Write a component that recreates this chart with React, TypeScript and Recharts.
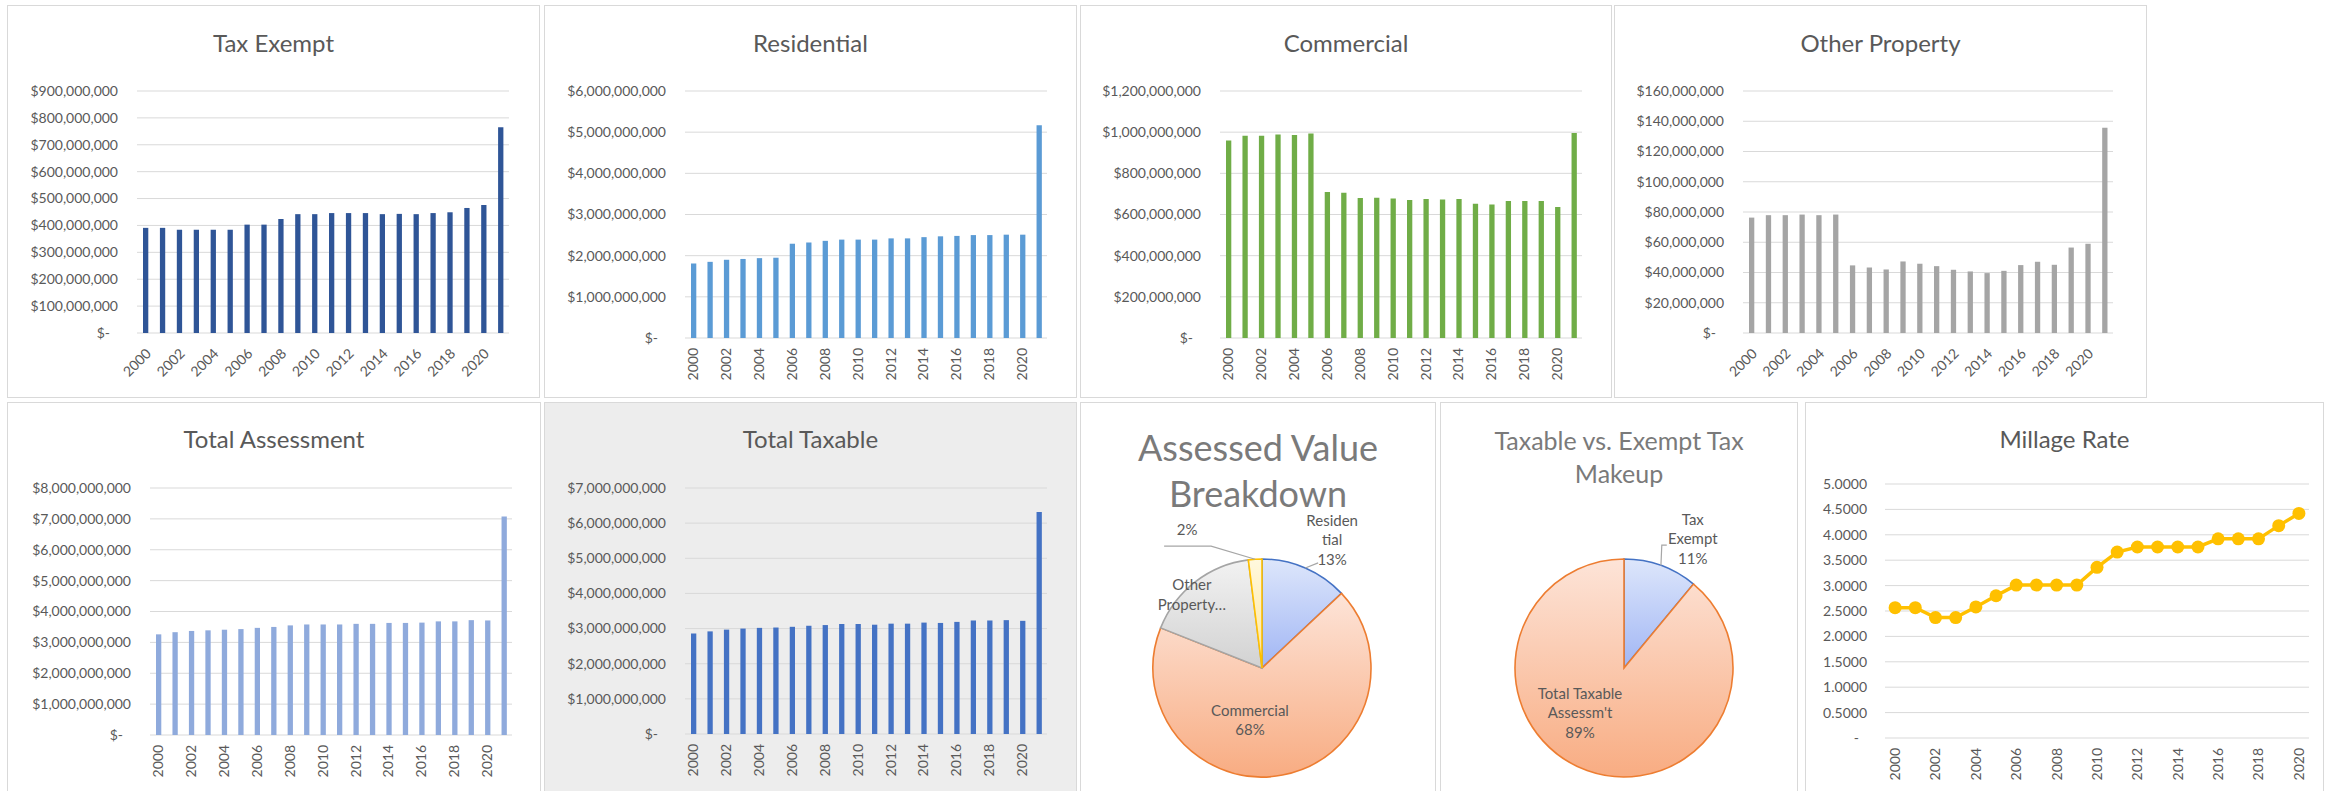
import React from 'react';
import { BarChart, Bar, LineChart, Line, PieChart, Pie, Cell, XAxis, YAxis, CartesianGrid } from 'recharts';

const FONT = 'Lato, "Open Sans", sans-serif';
const TEXT = '#595959';
const GRID = '#d9d9d9';

// categories
const years = ['2000', '2001', '2002', '2003', '2004', '2005', '2006', '2007', '2008', '2009', '2010',
  '2011', '2012', '2013', '2014', '2015', '2016', '2017', '2018', '2019', '2020', '2021'];
const millageYears = ['2000', '2001', '2002', '2003', '2004', '2005', '2006', '2007', '2008', '2009', '2010',
  '2011', '2012', '2013', '2014', '2015', '2016', '2017', '2018', '2019', '2020'];

// series values (dollars)
const taxExempt = [391e6, 391e6, 384e6, 384e6, 384e6, 384e6, 403e6, 403e6, 424e6, 442e6, 442e6,
  446e6, 446e6, 446e6, 442e6, 443e6, 442e6, 446e6, 449e6, 465e6, 476e6, 765e6];
const residential = [1.81e9, 1.85e9, 1.90e9, 1.92e9, 1.94e9, 1.95e9, 2.29e9, 2.32e9, 2.36e9, 2.39e9, 2.39e9,
  2.39e9, 2.42e9, 2.42e9, 2.45e9, 2.47e9, 2.48e9, 2.50e9, 2.50e9, 2.51e9, 2.51e9, 5.17e9];
const commercial = [960e6, 983e6, 983e6, 989e6, 986e6, 994e6, 709e6, 706e6, 680e6, 681e6, 678e6,
  671e6, 675e6, 673e6, 675e6, 652e6, 649e6, 665e6, 665e6, 665e6, 636e6, 996e6];
const otherProperty = [76.3e6, 77.9e6, 77.9e6, 78.3e6, 77.9e6, 78.3e6, 44.7e6, 43.3e6, 42.0e6, 47.3e6, 45.8e6,
  44.2e6, 41.8e6, 40.7e6, 39.6e6, 41.1e6, 44.9e6, 47.1e6, 45.1e6, 56.5e6, 59.0e6, 135.7e6];
const totalAssessment = [3.26e9, 3.33e9, 3.37e9, 3.39e9, 3.41e9, 3.43e9, 3.47e9, 3.50e9, 3.55e9, 3.58e9, 3.58e9,
  3.58e9, 3.60e9, 3.60e9, 3.63e9, 3.63e9, 3.64e9, 3.68e9, 3.68e9, 3.72e9, 3.71e9, 7.08e9];
const totalTaxable = [2.86e9, 2.92e9, 2.97e9, 3.00e9, 3.02e9, 3.03e9, 3.05e9, 3.08e9, 3.10e9, 3.13e9, 3.13e9,
  3.11e9, 3.14e9, 3.14e9, 3.17e9, 3.16e9, 3.19e9, 3.23e9, 3.23e9, 3.24e9, 3.22e9, 6.32e9];
const millageRate = [2.566, 2.566, 2.37, 2.37, 2.58, 2.80, 3.01, 3.01, 3.01, 3.01, 3.36,
  3.66, 3.76, 3.76, 3.76, 3.76, 3.92, 3.92, 3.92, 4.18, 4.42];

// pies (percent shares)
const breakdownNames = ['Residential', 'Commercial', 'Other Property', ''];
const breakdownValues = [13, 68, 17, 2];
const makeupNames = ['Tax Exempt', "Total Taxable Assessm't"];
const makeupValues = [11, 89];

// tick values
const taxExemptTicks = [0, 1e8, 2e8, 3e8, 4e8, 5e8, 6e8, 7e8, 8e8, 9e8];
const residentialTicks = [0, 1e9, 2e9, 3e9, 4e9, 5e9, 6e9];
const commercialTicks = [0, 2e8, 4e8, 6e8, 8e8, 1e9, 1.2e9];
const otherTicks = [0, 2e7, 4e7, 6e7, 8e7, 1e8, 1.2e8, 1.4e8, 1.6e8];
const assessmentTicks = [0, 1e9, 2e9, 3e9, 4e9, 5e9, 6e9, 7e9, 8e9];
const taxableTicks = [0, 1e9, 2e9, 3e9, 4e9, 5e9, 6e9, 7e9];
const millageTicks = [0, 0.5, 1, 1.5, 2, 2.5, 3, 3.5, 4, 4.5, 5];

type Rect = { l: number; t: number; r: number; b: number };

const YW = 110;
const XH = 50;

const money = (v: number) =>
  v === 0 ? '$-' : '$' + String(Math.round(v)).replace(/\B(?=(\d{3})+(?!\d))/g, ',');
const rate = (v: number) => (v === 0 ? '-' : v.toFixed(4));

function YTick({ x, y, payload, fmt }: any) {
  const v = payload.value;
  return (
    <text x={v === 0 ? x - 8 : x} y={y} dy="0.35em" textAnchor="end" fill={TEXT} fontSize={14} fontFamily={FONT}>
      {fmt(v)}
    </text>
  );
}

function XTick({ x, y, payload, rot }: any) {
  const dx = rot === -45 ? 3 : 0;
  const dy = rot === -45 ? 18 : 10;
  return (
    <g transform={`translate(${x + dx},${y + dy})`}>
      <text transform={`rotate(${rot})`} textAnchor="end" dy="0.35em" fill={TEXT} fontSize={14} fontFamily={FONT}>
        {payload.value}
      </text>
    </g>
  );
}

function Frame({ box, bg }: { box: Rect; bg?: string }) {
  return (
    <div
      style={{
        position: 'absolute', left: box.l, top: box.t, width: box.r - box.l, height: box.b - box.t,
        boxSizing: 'border-box', border: `1px solid ${GRID}`, background: bg || '#fff',
      }}
    />
  );
}

function Title({ box, y, lines, size, color, lh }: { box: Rect; y: number; lines: string[]; size: number; color: string; lh: number }) {
  return (
    <div
      style={{
        position: 'absolute', left: box.l, width: box.r - box.l, top: y - (lines.length * lh) / 2, textAlign: 'center',
        fontFamily: FONT, fontSize: size, lineHeight: `${lh}px`, color, whiteSpace: 'nowrap',
      }}
    >
      {lines.map((s, i) => <div key={i}>{s}</div>)}
    </div>
  );
}

function BarPanel({ box, plot, title, titleY, values, ticks, color, rot, bg }: any) {
  const data = years.map((year, i) => ({ year, v: values[i] }));
  const w = box.r - box.l;
  const h = box.b - box.t;
  const margin = { top: plot.t - box.t, right: box.r - plot.r, left: plot.l - box.l - YW, bottom: box.b - plot.b - XH };
  return (
    <>
      <Frame box={box} bg={bg} />
      <Title box={box} y={titleY} lines={[title]} size={24} color={TEXT} lh={30} />
      <div style={{ position: 'absolute', left: box.l, top: box.t }}>
        <BarChart width={w} height={h} data={data} margin={margin} barSize={5.3}>
          <CartesianGrid vertical={false} stroke={GRID} />
          <XAxis dataKey="year" interval={1} tickLine={false} axisLine={false} tickSize={0} tickMargin={0}
            height={XH} tick={<XTick rot={rot} />} />
          <YAxis width={YW} domain={[0, ticks[ticks.length - 1]]} ticks={ticks} interval={0} tickLine={false}
            axisLine={false} tickSize={0} tickMargin={19} tick={<YTick fmt={money} />} />
          <Bar dataKey="v" fill={color} isAnimationActive={false} />
        </BarChart>
      </div>
    </>
  );
}

type LabelCfg = { lines: string[]; shift: number; rf: number; pct?: boolean; leader?: number[][] };

const RAD = Math.PI / 180;

function pieLabel(cfgs: LabelCfg[]) {
  return (p: any) => {
    const c = cfgs[p.index];
    const a = (p.midAngle + c.shift) * RAD;
    const lx = p.cx + p.outerRadius * c.rf * Math.cos(a);
    const ly = p.cy - p.outerRadius * c.rf * Math.sin(a);
    const lines = c.pct === false ? c.lines : [...c.lines, `${Math.round(p.percent * 100)}%`];
    const lh = 19.5;
    const y0 = ly - ((lines.length - 1) * lh) / 2;
    const m = p.midAngle * RAD;
    const ax = p.cx + p.outerRadius * Math.cos(m);
    const ay = p.cy - p.outerRadius * Math.sin(m);
    let path = '';
    if (c.leader) {
      path = `M${ax},${ay}` + c.leader.map(([dx, dy]) => `L${lx + dx},${ly + dy}`).join('');
    }
    return (
      <g key={`lbl-${p.index}`}>
        {path && <path d={path} stroke="#a6a6a6" strokeWidth={1.2} fill="none" />}
        <text x={lx} y={y0} textAnchor="middle" fill={TEXT} fontSize={15} fontFamily={FONT}>
          {lines.map((t, i) => (
            <tspan key={i} x={lx} dy={i === 0 ? '0.35em' : lh}>{t}</tspan>
          ))}
        </text>
      </g>
    );
  };
}

function PiePanel({ box, cx, cy, titleLines, titleY, titleSize, titleLh, names, values, fills, strokes, cfgs }: any) {
  const data = names.map((name: string, i: number) => ({ name, value: values[i] }));
  const w = box.r - box.l;
  const h = box.b - box.t;
  return (
    <>
      <Frame box={box} />
      <Title box={box} y={titleY} lines={titleLines} size={titleSize} color="#7a7a7a" lh={titleLh} />
      <div style={{ position: 'absolute', left: box.l, top: box.t }}>
        <PieChart width={w} height={h} margin={{ top: 0, right: 0, bottom: 0, left: 0 }}>
          <Pie data={data} dataKey="value" nameKey="name" cx={cx - box.l} cy={cy - box.t} outerRadius={109}
            startAngle={90} endAngle={-270} isAnimationActive={false} labelLine={false} label={pieLabel(cfgs)}>
            {data.map((d: any, i: number) => (
              <Cell key={d.name + i} fill={`url(#${fills[i]})`} stroke={strokes[i]} strokeWidth={1.6} />
            ))}
          </Pie>
        </PieChart>
      </div>
    </>
  );
}

function MillagePanel() {
  const box = { l: 1805, t: 402, r: 2324, b: 800 };
  const plot = { l: 1885, t: 484, r: 2309, b: 738 };
  const yw = 60;
  const data = millageYears.map((year, i) => ({ year, v: millageRate[i] }));
  const half = (plot.r - plot.l) / millageYears.length / 2;
  const margin = { top: plot.t - box.t, right: box.r - plot.r, left: plot.l - box.l - yw, bottom: box.b - plot.b - XH };
  return (
    <>
      <Frame box={box} />
      <Title box={box} y={439} lines={['Millage Rate']} size={24} color={TEXT} lh={30} />
      <div style={{ position: 'absolute', left: box.l, top: box.t }}>
        <LineChart width={box.r - box.l} height={box.b - box.t} data={data} margin={margin}>
          <CartesianGrid vertical={false} stroke={GRID} />
          <XAxis dataKey="year" interval={1} tickLine={false} axisLine={false} tickSize={0} tickMargin={0}
            height={XH} padding={{ left: half, right: half }} tick={<XTick rot={-90} />} />
          <YAxis width={yw} domain={[0, 5]} ticks={millageTicks} interval={0} tickLine={false} axisLine={false}
            tickSize={0} tickMargin={18} tick={<YTick fmt={rate} />} />
          <Line dataKey="v" stroke="#ffc000" strokeWidth={3.5} isAnimationActive={false}
            dot={{ r: 6.5, fill: '#ffc000', stroke: '#ffc000', strokeWidth: 0 }} />
        </LineChart>
      </div>
    </>
  );
}

export default function App() {
  return (
    <div style={{ position: 'absolute', left: 0, top: 0, width: 2335, height: 791, overflow: 'hidden', background: '#fff' }}>
      <svg width={0} height={0} style={{ position: 'absolute' }}>
        <defs>
          <linearGradient id="gBlue" x1="0" y1="0" x2="0" y2="1">
            <stop offset="0" stopColor="#dde6fb" />
            <stop offset="1" stopColor="#a1b6f4" />
          </linearGradient>
          <linearGradient id="gOrange" x1="0" y1="0" x2="0" y2="1">
            <stop offset="0" stopColor="#fde4d8" />
            <stop offset="1" stopColor="#f8ac82" />
          </linearGradient>
          <linearGradient id="gGrey" x1="0" y1="0" x2="0" y2="1">
            <stop offset="0" stopColor="#f2f2f2" />
            <stop offset="1" stopColor="#d2d2d2" />
          </linearGradient>
          <linearGradient id="gYellow" x1="0" y1="0" x2="0" y2="1">
            <stop offset="0" stopColor="#fff8de" />
            <stop offset="1" stopColor="#ffe699" />
          </linearGradient>
        </defs>
      </svg>

      <BarPanel box={{ l: 7, t: 5, r: 540, b: 398 }} plot={{ l: 137, t: 91, r: 509, b: 333 }} title="Tax Exempt"
        titleY={43} values={taxExempt} ticks={taxExemptTicks} color="#2f5597" rot={-45} />
      <BarPanel box={{ l: 544, t: 5, r: 1077, b: 398 }} plot={{ l: 685, t: 91, r: 1047, b: 338 }} title="Residential"
        titleY={43} values={residential} ticks={residentialTicks} color="#5b9bd5" rot={-90} />
      <BarPanel box={{ l: 1080, t: 5, r: 1612, b: 398 }} plot={{ l: 1220, t: 91, r: 1582, b: 338 }} title="Commercial"
        titleY={43} values={commercial} ticks={commercialTicks} color="#70ad47" rot={-90} />
      <BarPanel box={{ l: 1614, t: 5, r: 2147, b: 398 }} plot={{ l: 1743, t: 91, r: 2113, b: 333 }} title="Other Property"
        titleY={43} values={otherProperty} ticks={otherTicks} color="#a5a5a5" rot={-45} />

      <BarPanel box={{ l: 7, t: 402, r: 541, b: 800 }} plot={{ l: 150, t: 488, r: 512, b: 735 }} title="Total Assessment"
        titleY={439} values={totalAssessment} ticks={assessmentTicks} color="#8faadc" rot={-90} />
      <BarPanel box={{ l: 544, t: 402, r: 1077, b: 800 }} plot={{ l: 685, t: 488, r: 1047, b: 734 }} title="Total Taxable"
        titleY={439} values={totalTaxable} ticks={taxableTicks} color="#4472c4" rot={-90} bg="#ededed" />

      <PiePanel box={{ l: 1080, t: 402, r: 1436, b: 800 }} cx={1262} cy={668}
        titleLines={['Assessed Value', 'Breakdown']} titleY={470} titleSize={36} titleLh={46}
        names={breakdownNames} values={breakdownValues}
        fills={['gBlue', 'gOrange', 'gGrey', 'gYellow']} strokes={['#4472c4', '#ed7d31', '#a5a5a5', '#ffc000']}
        cfgs={[
          { lines: ['Residen', 'tial'], shift: -5.3, rf: 1.34, leader: [[-14, 23]] },
          { lines: ['Commercial'], shift: -23.8, rf: 0.49 },
          { lines: ['Other', 'Property…'], shift: 6, rf: 0.93, pct: false },
          { lines: [], shift: 24.9, rf: 1.44, leader: [[24, 16], [-23, 16]] },
        ]} />
      <PiePanel box={{ l: 1440, t: 402, r: 1798, b: 800 }} cx={1624} cy={668}
        titleLines={['Taxable vs. Exempt Tax', 'Makeup']} titleY={456.5} titleSize={25} titleLh={33}
        names={makeupNames} values={makeupValues}
        fills={['gBlue', 'gOrange']} strokes={['#4472c4', '#ed7d31']}
        cfgs={[
          { lines: ['Tax', 'Exempt'], shift: -8.3, rf: 1.34, leader: [[-31, 6], [-26, 6]] },
          { lines: ['Total Taxable', "Assessm't"], shift: -24.6, rf: 0.577 },
        ]} />

      <MillagePanel />
    </div>
  );
}
